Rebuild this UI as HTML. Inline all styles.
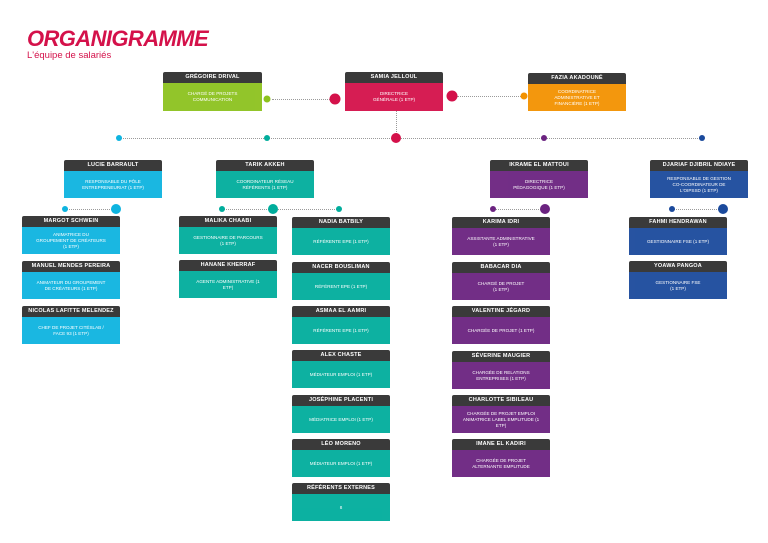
<!DOCTYPE html>
<html><head><meta charset="utf-8"><style>
body{margin:0;width:768px;height:543px;background:#fff;position:relative;overflow:hidden;font-family:"Liberation Sans",sans-serif}
.b{position:absolute;width:98px;height:38px;border-radius:2px 2px 0 0;overflow:hidden}
.h{background:#3a3a3a;color:#fff;height:11px;line-height:11px;font-size:5.5px;font-weight:bold;text-align:center;text-transform:uppercase;letter-spacing:.2px;white-space:nowrap;font-family:"Liberation Sans Narrow","Liberation Sans",sans-serif}
.t{height:27px;display:flex;align-items:center;justify-content:center;text-align:center;color:#fff;font-size:4.6px;line-height:6px;text-transform:uppercase;padding:0 14px;opacity:.95}
.g .t{background:#8dc21f}.r .t{background:#d4114a}.o .t{background:#f39200}
.c .t{background:#0eb4e0}.e .t{background:#00ad9c}.p .t{background:#6b2380}.n .t{background:#1b4a9c}
.d{position:absolute;border-radius:50%;transform:translate(-50%,-50%)}
.l{position:absolute;height:0;border-top:1px dotted #9a9a9a}
</style></head><body>
<div style="position:absolute;left:27px;top:27px;font-size:22px;line-height:24px;font-weight:bold;color:#d4114a;letter-spacing:-0.6px;font-style:italic">ORGANIGRAMME</div>
<div style="position:absolute;left:27px;top:50px;font-size:9.5px;color:#d4114a">L'équipe de salariés</div>

<div class="l" style="left:272px;top:99px;width:58px"></div>
<div class="l" style="left:457px;top:96px;width:64px"></div>
<div style="position:absolute;left:396px;top:111px;height:27px;border-left:1px dotted #9a9a9a"></div>
<div class="l" style="left:119px;top:138px;width:583px"></div>
<div class="l" style="left:65px;top:209px;width:51px"></div>
<div class="l" style="left:222px;top:209px;width:117px"></div>
<div class="l" style="left:493px;top:209px;width:52px"></div>
<div class="l" style="left:672px;top:209px;width:51px"></div>

<div class="d" style="left:267px;top:99px;width:7px;height:7px;background:#8dc21f"></div>
<div class="d" style="left:335px;top:99px;width:11px;height:11px;background:#d4114a"></div>
<div class="d" style="left:452px;top:96px;width:11px;height:11px;background:#d4114a"></div>
<div class="d" style="left:524px;top:96px;width:7px;height:7px;background:#f39200"></div>
<div class="d" style="left:119px;top:138px;width:6px;height:6px;background:#0eb4e0"></div>
<div class="d" style="left:267px;top:138px;width:6px;height:6px;background:#00ad9c"></div>
<div class="d" style="left:396px;top:138px;width:10px;height:10px;background:#d4114a"></div>
<div class="d" style="left:544px;top:138px;width:6px;height:6px;background:#6b2380"></div>
<div class="d" style="left:702px;top:138px;width:6px;height:6px;background:#1b4a9c"></div>
<div class="d" style="left:65px;top:209px;width:6px;height:6px;background:#0eb4e0"></div>
<div class="d" style="left:116px;top:209px;width:10px;height:10px;background:#0eb4e0"></div>
<div class="d" style="left:222px;top:209px;width:6px;height:6px;background:#00ad9c"></div>
<div class="d" style="left:273px;top:209px;width:10px;height:10px;background:#00ad9c"></div>
<div class="d" style="left:339px;top:209px;width:6px;height:6px;background:#00ad9c"></div>
<div class="d" style="left:493px;top:209px;width:6px;height:6px;background:#6b2380"></div>
<div class="d" style="left:545px;top:209px;width:10px;height:10px;background:#6b2380"></div>
<div class="d" style="left:672px;top:209px;width:6px;height:6px;background:#1b4a9c"></div>
<div class="d" style="left:723px;top:209px;width:10px;height:10px;background:#1b4a9c"></div>

<div class="b g" style="left:163px;top:72px;width:99px;height:39px"><div class="h">Grégoire Drival</div><div class="t" style="height:28px">Chargé de projets communication</div></div>
<div class="b r" style="left:345px;top:72px;width:98px;height:39px"><div class="h">Samia Jelloul</div><div class="t" style="height:28px;padding:0 22px">Directrice générale (1 ETP)</div></div>
<div class="b o" style="left:528px;top:73px;height:38px"><div class="h">Fazia Akadouné</div><div class="t">Coordinatrice administrative et financière (1 ETP)</div></div>

<div class="b c" style="left:64px;top:160px"><div class="h">Lucie Barrault</div><div class="t">Responsable du pôle entrepreneuriat (1 ETP)</div></div>
<div class="b e" style="left:216px;top:160px"><div class="h">Tarik Akkeh</div><div class="t">Coordinateur réseau référents (1 ETP)</div></div>
<div class="b p" style="left:490px;top:160px"><div class="h">Ikrame El Mattoui</div><div class="t" style="padding:0 22px">Directrice pédagogique (1 ETP)</div></div>
<div class="b n" style="left:650px;top:160px"><div class="h">Djariaf Djibril Ndiaye</div><div class="t">Responsable de gestion co-coordinateur de l'OIPSSD (1 ETP)</div></div>

<div class="b c" style="left:22px;top:216px"><div class="h">Margot Schwein</div><div class="t">Animatrice du groupement de créateurs (1 ETP)</div></div>
<div class="b c" style="left:22px;top:261px"><div class="h">Manuel Mendes Pereira</div><div class="t">Animateur du groupement de créateurs (1 ETP)</div></div>
<div class="b c" style="left:22px;top:306px"><div class="h">Nicolas Lafitte Melendez</div><div class="t">Chef de projet Citéslab / Face 93 (1 ETP)</div></div>

<div class="b e" style="left:179px;top:216px"><div class="h">Malika Chaabi</div><div class="t">Gestionnaire de parcours (1 ETP)</div></div>
<div class="b e" style="left:179px;top:260px"><div class="h">Hanane Kherraf</div><div class="t">Agente administrative (1 ETP)</div></div>

<div class="b e" style="left:292px;top:217px"><div class="h">Nadia Batbily</div><div class="t">Référente EPE (1 ETP)</div></div>
<div class="b e" style="left:292px;top:262px"><div class="h">Nacer Bousliman</div><div class="t">Référent EPE (1 ETP)</div></div>
<div class="b e" style="left:292px;top:306px"><div class="h">Asmaa El Aamri</div><div class="t">Référente EPE (1 ETP)</div></div>
<div class="b e" style="left:292px;top:350px"><div class="h">Alex Chaste</div><div class="t">Médiateur emploi (1 ETP)</div></div>
<div class="b e" style="left:292px;top:395px"><div class="h">Joséphine Placenti</div><div class="t">Médiatrice emploi (1 ETP)</div></div>
<div class="b e" style="left:292px;top:439px"><div class="h">Léo Moreno</div><div class="t">Médiateur emploi (1 ETP)</div></div>
<div class="b e" style="left:292px;top:483px"><div class="h">Référents externes</div><div class="t">8</div></div>

<div class="b p" style="left:452px;top:217px"><div class="h">Karima Idri</div><div class="t">Assistante administrative (1 ETP)</div></div>
<div class="b p" style="left:452px;top:262px"><div class="h">Babacar Dia</div><div class="t" style="padding:0 24px">Chargé de projet (1 ETP)</div></div>
<div class="b p" style="left:452px;top:306px"><div class="h">Valentine Jégard</div><div class="t">Chargée de projet (1 ETP)</div></div>
<div class="b p" style="left:452px;top:351px"><div class="h">Séverine Maugier</div><div class="t">Chargée de relations entreprises (1 ETP)</div></div>
<div class="b p" style="left:452px;top:395px"><div class="h">Charlotte Sibileau</div><div class="t" style="padding:0 10px">Chargée de projet emploi animatrice label emplitude (1 ETP)</div></div>
<div class="b p" style="left:452px;top:439px"><div class="h">Imane El Kadiri</div><div class="t" style="padding:0 20px">Chargée de projet alternante emplitude</div></div>

<div class="b n" style="left:629px;top:217px"><div class="h">Fahmi Hendrawan</div><div class="t">Gestionnaire FSE (1 ETP)</div></div>
<div class="b n" style="left:629px;top:261px"><div class="h">Yoawa Pangoa</div><div class="t" style="padding:0 24px">Gestionnaire FSE (1 ETP)</div></div>
</body></html>
